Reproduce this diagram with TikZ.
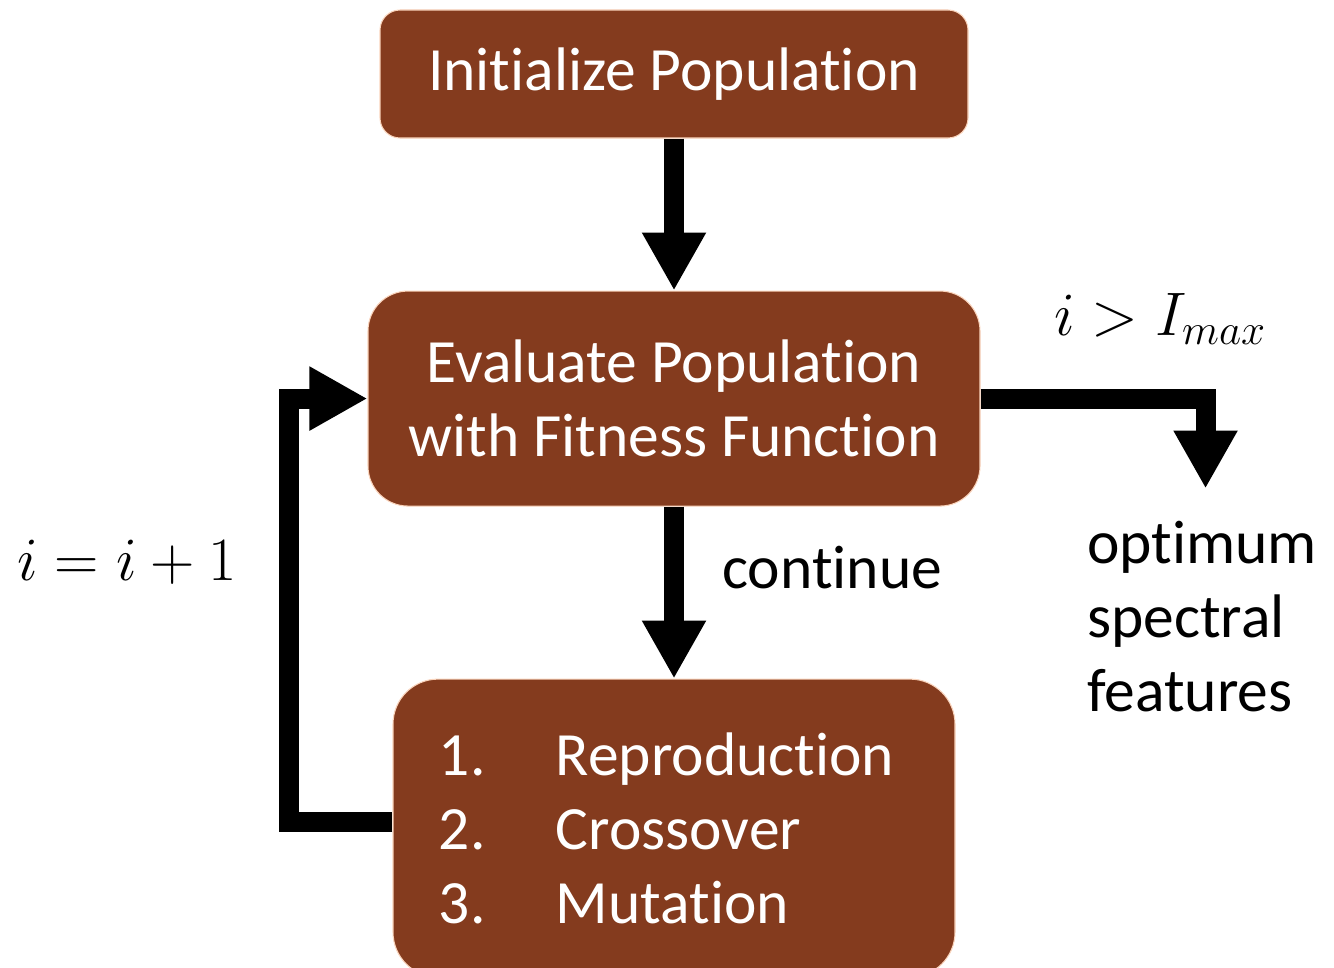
\documentclass[tikz,border=0pt]{standalone}
\usepackage{fix-cm}
\usepackage{fontspec}
\setmainfont{Carlito}[Ligatures=NoCommon]
\usepackage{tikz}
\usetikzlibrary{arrows.meta,positioning}

\definecolor{rust}{RGB}{132,59,30}
\definecolor{peach}{RGB}{250,212,188}

\begin{document}
\begin{tikzpicture}[
    node distance=3cm,
    stage/.style={rectangle, draw=peach, line width=0.6pt, fill=rust, align=center, text=white, inner sep=0pt, font=\fontsize{35}{42}\selectfont},
    lbl/.style={inner sep=0pt, font=\fontsize{35}{42}\selectfont},
    flow/.style={-{Triangle[width=1.2cm,length=1.16cm]}, line width=0.4cm}
]
\useasboundingbox (0,0) rectangle (26.68,-19.34);

% Nodes
\node[stage, minimum width=11.76cm, minimum height=2.56cm, rounded corners=0.4cm] (init) at (13.48,-1.48) {Initialize Population};
\node[stage, below=3.04cm of init, minimum width=12.24cm, minimum height=4.3cm, rounded corners=0.8cm] (eval) {Evaluate Population\\with Fitness Function};
\node[stage, below=3.44cm of eval, minimum width=11.24cm, minimum height=5.96cm, rounded corners=0.9cm, align=left] (ops) {\makebox[2.34cm][l]{1.}Reproduction\hspace*{0.3cm}\\\makebox[2.34cm][l]{2.}Crossover\\\makebox[2.34cm][l]{3.}Mutation};

\coordinate[below right=1.8cm and 4.5cm of eval.east] (done);

% Labels
\node[lbl, anchor=base] (stop) at (23.2,-6.7) {$i > I_{max}$};
\node[lbl, anchor=base west] (cont) at (14.44,-11.76) {continue};
\node[lbl, anchor=base] (incr) at (2.54,-11.6) {$i = i + 1$};
\node[lbl, anchor=north west, align=left] (result) at (21.74,-10.42) {optimum\\spectral\\features};

% Edges
\draw[flow] (init) -- (eval);
\draw[flow] (eval) -- (ops);
\draw[flow] (eval.east) -| (done);
\draw[flow] ([yshift=0.12cm]ops.west) -- ++(-2.06,0) |- (eval.west);

\end{tikzpicture}
\end{document}
